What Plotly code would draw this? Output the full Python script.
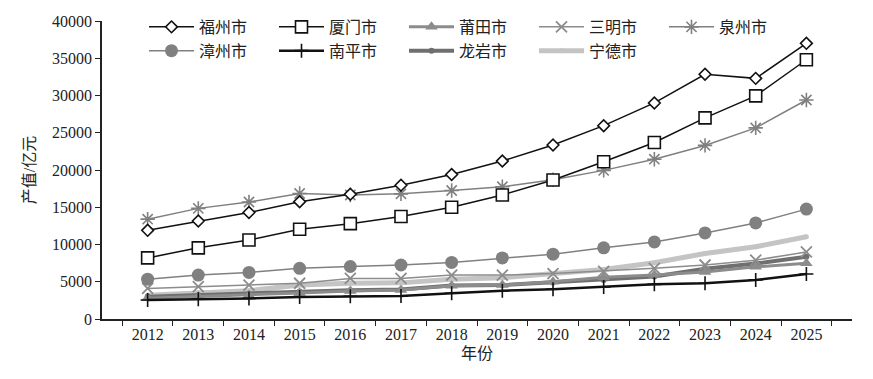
import plotly.graph_objects as go

years = [str(y) for y in range(2012, 2026)]

fuzhou   = [11900, 13150, 14300, 15750, 16750, 17950, 19400, 21200, 23350, 25950, 29000, 32850, 32300, 37000]
xiamen   = [8200, 9550, 10600, 12050, 12800, 13750, 15000, 16650, 18650, 21100, 23700, 27000, 29950, 34800]
putian   = [2800, 3000, 3200, 3500, 3750, 3900, 4450, 4550, 5000, 5600, 5900, 6300, 7000, 7500]
sanming  = [4100, 4350, 4550, 4800, 5450, 5450, 5900, 5900, 6100, 6400, 6800, 7250, 7900, 9000]
quanzhou = [13400, 14850, 15700, 16850, 16650, 16800, 17250, 17750, 18700, 19950, 21450, 23300, 25650, 29400]
zhangzhou = [5350, 5900, 6250, 6800, 7050, 7250, 7600, 8200, 8700, 9550, 10350, 11550, 12900, 14750]
nanping  = [2550, 2650, 2750, 2950, 3050, 3100, 3450, 3800, 4000, 4300, 4650, 4800, 5250, 6050]
longyan  = [3000, 3200, 3400, 3700, 3850, 3950, 4500, 4550, 4900, 5250, 5700, 6750, 7450, 8350]
ningde   = [3200, 3550, 3800, 4550, 4800, 4850, 5350, 5550, 6100, 6650, 7550, 8800, 9700, 11050]

names = ["福州市", "厦门市", "莆田市", "三明市", "泉州市", "漳州市", "南平市", "龙岩市", "宁德市"]

fig = go.Figure()

def add(name, y, color, width, symbol, msize, mcolor=None, mline=None, mlw=0):
    fig.add_trace(go.Scatter(
        x=years, y=y, name=name, mode="lines+markers",
        line=dict(color=color, width=width),
        marker=dict(symbol=symbol, size=msize, color=mcolor if mcolor else color,
                    line=dict(color=mline if mline else color, width=mlw)),
    ))

# draw order: light/thick below, black on top
add("宁德市", ningde, "#c4c4c4", 5, "circle", 5)
add("龙岩市", longyan, "#6f6f6f", 4, "circle", 6)
add("莆田市", putian, "#8c8c8c", 3, "triangle-up", 11)
add("三明市", sanming, "#8c8c8c", 1.5, "x-thin", 11, mline="#8c8c8c", mlw=1.8)
add("漳州市", zhangzhou, "#808080", 1.5, "circle", 13)
add("泉州市", quanzhou, "#808080", 1.5, "asterisk", 12, mline="#808080", mlw=1.6)
add("南平市", nanping, "#111111", 2.5, "cross-thin", 10, mline="#111111", mlw=1.6)
add("厦门市", xiamen, "#111111", 1.5, "square", 12, mcolor="white", mline="#111111", mlw=1.6)
add("福州市", fuzhou, "#111111", 1.5, "diamond", 9, mcolor="white", mline="#111111", mlw=1.6)

# legend order
order = {n: i for i, n in enumerate(names)}
for tr in fig.data:
    tr.legendrank = order[tr.name] + 1

font_family = "Liberation Serif, Noto Sans CJK SC, serif"

fig.update_layout(
    width=873, height=379,
    margin=dict(l=94, r=29, t=13, b=68, autoexpand=False),
    paper_bgcolor="white", plot_bgcolor="white",
    font=dict(family=font_family, size=16, color="#222"),
    showlegend=True,
    legend=dict(orientation="h", x=0.056, y=1.037, xanchor="left", yanchor="top",
                bgcolor="rgba(255,255,255,0)", itemwidth=45,
                entrywidth=70, entrywidthmode="pixels",
                font=dict(size=16, family=font_family), tracegroupgap=0),
    xaxis=dict(type="category", showline=True, linecolor="#222", linewidth=1.5,
               ticks="outside", tickson="boundaries", ticklen=5, tickcolor="#222",
               showgrid=False, zeroline=False, automargin=False,
               title=dict(text="年份", standoff=6, font=dict(size=16))),
    yaxis=dict(range=[0, 40000], dtick=5000, tickformat="d", showline=True,
               linecolor="#222", linewidth=1.5, automargin=False,
               ticks="outside", ticklen=5, tickcolor="#222", showgrid=False, zeroline=False,
               title=dict(text="产值/亿元", standoff=12, font=dict(size=16))),
)

fig.write_html("out.html")
